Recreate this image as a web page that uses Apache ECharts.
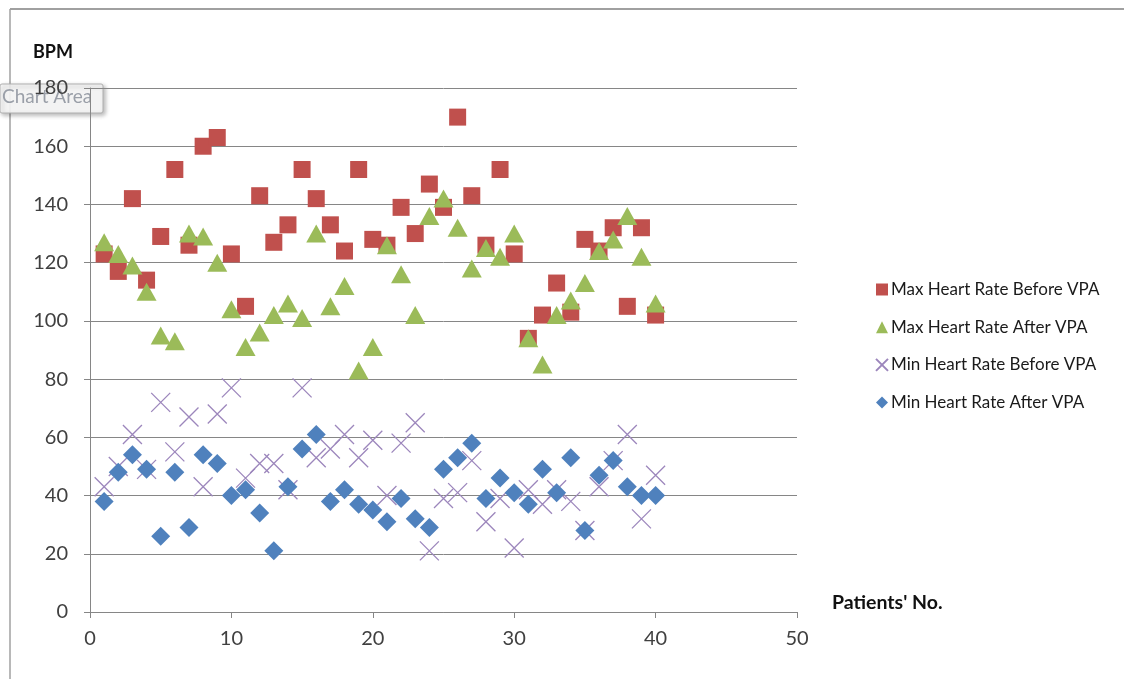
<!DOCTYPE html>
<html>
<head>
<meta charset="utf-8">
<script src="https://cdn.jsdelivr.net/npm/echarts@6/dist/echarts.min.js"></script>
<style>
html,body{margin:0;padding:0;background:#fff;}
#c{width:1124px;height:679px;}
</style>
</head>
<body>
<div id="c"></div>
<script>
var patients = [1,2,3,4,5,6,7,8,9,10,11,12,13,14,15,16,17,18,19,20,21,22,23,24,25,26,27,28,29,30,31,32,33,34,35,36,37,38,39,40];
var maxBefore = [123,117,142,114,129,152,126,160,163,123,105,143,127,133,152,142,133,124,152,128,126,139,130,147,139,170,143,126,152,123,94,102,113,103,128,124,132,105,132,102];
var maxAfter = [127,123,119,110,95,93,130,129,120,104,91,96,102,106,101,130,105,112,83,91,126,116,102,136,142,132,118,125,122,130,94,85,102,107,113,124,128,136,122,106];
var minBefore = [43,50,61,49,72,55,67,43,68,77,46,51,51,42,77,53,56,61,53,59,40,58,65,21,39,41,52,31,39,22,42,37,42,38,28,43,52,61,32,47];
var minAfter = [38,48,54,49,26,48,29,54,51,40,42,34,21,43,56,61,38,42,37,35,31,39,32,29,49,53,58,39,46,41,37,49,41,53,28,47,52,43,40,40];
var seriesNames = ['Max Heart Rate Before VPA','Max Heart Rate After VPA','Min Heart Rate Before VPA','Min Heart Rate After VPA'];
var xTicks = [0,10,20,30,40,50];
var yTicks = [0,20,40,60,80,100,120,140,160,180];

function pairs(vals){ return patients.map(function(p,i){ return [p, vals[i]]; }); }

var FONT = 'Lato';
var chart = echarts.init(document.getElementById('c'));
var option = {
  backgroundColor: '#ffffff',
  animation: false,
  grid: {left: 90, right: 327, top: 88, bottom: 67, containLabel: false},
  xAxis: {
    type: 'value', min: xTicks[0], max: xTicks[xTicks.length-1], interval: 10,
    splitLine: {show: false},
    axisLine: {show: true, lineStyle: {color: '#868686', width: 1}},
    axisTick: {show: true, length: 6, lineStyle: {color: '#868686'}},
    axisLabel: {color: '#404040', fontFamily: FONT, fontSize: 20, margin: 17}
  },
  yAxis: {
    type: 'value', min: yTicks[0], max: yTicks[yTicks.length-1], interval: 20,
    splitLine: {show: true, lineStyle: {color: '#868686', width: 1}},
    axisLine: {show: true, lineStyle: {color: '#868686', width: 1}},
    axisTick: {show: true, length: 6, lineStyle: {color: '#868686'}},
    axisLabel: {color: '#404040', fontFamily: FONT, fontSize: 20, margin: 22}
  },
  legend: {
    orient: 'vertical', left: 870, top: 276, itemGap: 20.7,
    itemWidth: 12, itemHeight: 12,
    textStyle: {color: '#1a1a1a', fontFamily: FONT, fontSize: 17, lineHeight: 17, padding: [0,0,0,-2]},
    data: seriesNames
  },
  series: [
    {name: seriesNames[0], type: 'scatter', symbol: 'rect', symbolSize: 17,
     itemStyle: {color: '#C0504D', opacity: 1}, data: pairs(maxBefore)},
    {name: seriesNames[1], type: 'scatter', symbol: 'triangle', symbolSize: [20,18],
     itemStyle: {color: '#9BBB59', opacity: 1}, data: pairs(maxAfter)},
    {name: seriesNames[2], type: 'scatter', symbol: 'path://M0,0L10,10M10,0L0,10', symbolSize: 19,
     itemStyle: {color: 'rgba(0,0,0,0)', borderColor: '#9C86BC', borderWidth: 1.3, opacity: 1}, data: pairs(minBefore)},
    {name: seriesNames[3], type: 'scatter', symbol: 'diamond', symbolSize: [19,19],
     itemStyle: {color: '#4F81BD', opacity: 1}, data: pairs(minAfter)}
  ],
  graphic: [
    {type: 'line', shape: {x1: 10, y1: 9, x2: 1124, y2: 9}, style: {stroke: '#a0a0a0', lineWidth: 2}, z: -20},
    {type: 'line', shape: {x1: 10, y1: 9, x2: 10, y2: 679}, style: {stroke: '#a0a0a0', lineWidth: 1.5}, z: -20},
    {type: 'text', left: 33, top: 43, style: {text: 'BPM', fill: '#111', font: 'bold 18px ' + FONT}},
    {type: 'text', left: 832, top: 593, style: {text: "Patients' No.", fill: '#111', font: 'bold 19.5px ' + FONT}},
    {type: 'rect', shape: {x: 0, y: 84, width: 103, height: 29, r: 2},
     style: {fill: 'rgba(250,250,250,0.9)', stroke: '#b0b0b0', lineWidth: 1, shadowBlur: 4, shadowOffsetX: 2, shadowOffsetY: 2, shadowColor: 'rgba(0,0,0,0.3)'}, z: -10},
    {type: 'text', left: 2, top: 87, style: {text: 'Chart Area', fill: '#9a9fa8', font: '19px ' + FONT}, z: -9}
  ]
};
chart.setOption(option);
</script>
</body>
</html>
